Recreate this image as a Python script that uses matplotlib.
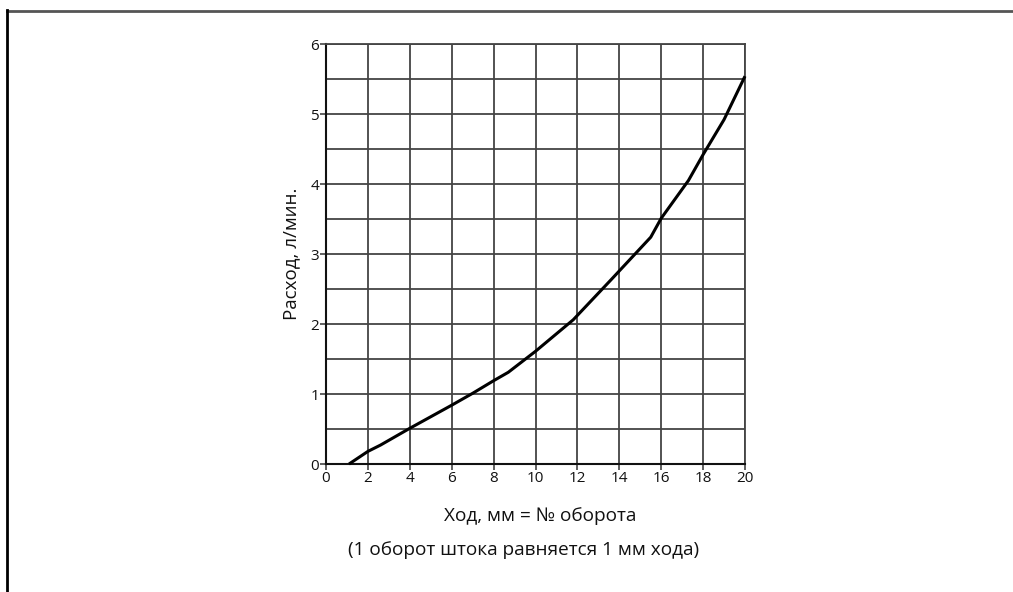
import matplotlib
matplotlib.use("Agg")
import matplotlib.pyplot as plt
from matplotlib.lines import Line2D
import numpy as np

plt.rcParams['font.family'] = ['Open Sans', 'DejaVu Sans']

stroke_mm = [1.1, 2.0, 2.6, 4.0, 6.0, 7.0, 8.0, 8.7, 10.0, 11.8, 13.6, 15.5, 16.0, 17.3, 18.0, 19.0, 20.0]
flow_lpm = [0.0, 0.18, 0.27, 0.51, 0.84, 1.01, 1.19, 1.31, 1.61, 2.06, 2.63, 3.24, 3.51, 4.05, 4.42, 4.92, 5.54]
x_ticks = [0, 2, 4, 6, 8, 10, 12, 14, 16, 18, 20]
y_ticks = [0, 1, 2, 3, 4, 5, 6]
y_minor = [0.5, 1.5, 2.5, 3.5, 4.5, 5.5]

W, H = 1013, 592
fig = plt.figure(figsize=(W / 100, H / 100), dpi=100)
ax = fig.add_axes([326 / W, 1 - 464 / H, (745 - 326) / W, (464 - 44) / H])

grid_c = '#444444'
ax.set_xlim(0, 20)
ax.set_ylim(0, 6)
ax.set_xticks(x_ticks)
ax.set_yticks(y_ticks)
ax.set_yticks(y_minor, minor=True)
ax.tick_params(axis='both', which='major', length=4, width=1.2, color=grid_c,
               labelsize=11, pad=1, labelcolor='#111111')
ax.tick_params(axis='y', which='minor', length=0)
ax.grid(True, which='both', axis='y', color=grid_c, linewidth=1.3)
ax.grid(True, which='major', axis='x', color=grid_c, linewidth=1.3)
for s in ['top', 'right']:
    ax.spines[s].set_color(grid_c)
    ax.spines[s].set_linewidth(1.3)
for s in ['left', 'bottom']:
    ax.spines[s].set_color('#111111')
    ax.spines[s].set_linewidth(1.5)
ax.set_axisbelow(True)

ax.plot(stroke_mm, flow_lpm, color='black', linewidth=2.2, solid_capstyle='butt',
        solid_joinstyle='round', clip_on=False, zorder=5)

fig.text(291 / W, 1 - 254 / H, 'Расход, л/мин.', rotation=90, ha='center', va='center', fontsize=13.5, color='#111111')
fig.text(540 / W, 1 - 516 / H, 'Ход, мм = № оборота', ha='center', va='center', fontsize=13.7, color='#111111')
fig.text(524 / W, 1 - 550 / H, '(1 оборот штока равняется 1 мм хода)', ha='center', va='center', fontsize=13.7, color='#111111')

# page frame
fig.add_artist(Line2D([6.5 / W, 1.0], [1 - 10.5 / H, 1 - 10.5 / H], transform=fig.transFigure, color='#555555', linewidth=2))
fig.add_artist(Line2D([6.5 / W, 6.5 / W], [1 - 10 / H, 0.0], transform=fig.transFigure, color='black', linewidth=2))

fig.savefig('out.png', dpi=100)
